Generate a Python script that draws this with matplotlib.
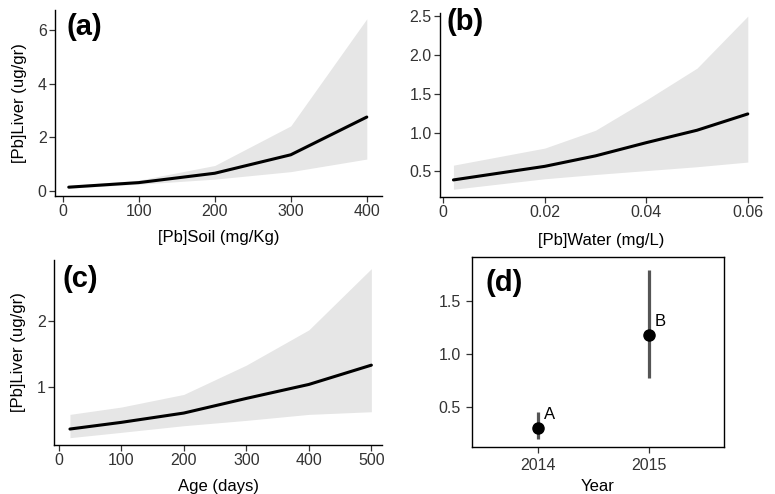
import numpy as np
import matplotlib
matplotlib.use("Agg")
import matplotlib.pyplot as plt

plt.rcParams['font.family'] = ['Liberation Sans', 'DejaVu Sans']

# (a) soil
soil_x = [8, 100, 200, 300, 400]
soil_fit = [0.14, 0.31, 0.66, 1.35, 2.76]
soil_lo = [0.10, 0.25, 0.44, 0.72, 1.19]
soil_hi = [0.20, 0.40, 0.95, 2.43, 6.43]

# (b) water
water_x = [0.002, 0.02, 0.03, 0.04, 0.05, 0.06]
water_fit = [0.39, 0.565, 0.70, 0.87, 1.03, 1.24]
water_lo = [0.27, 0.405, 0.46, 0.51, 0.56, 0.62]
water_hi = [0.58, 0.80, 1.03, 1.42, 1.83, 2.50]

# (c) age
age_x = [18, 100, 200, 300, 400, 500]
age_fit = [0.37, 0.47, 0.61, 0.83, 1.04, 1.33]
age_lo = [0.24, 0.32, 0.42, 0.50, 0.59, 0.63]
age_hi = [0.59, 0.70, 0.89, 1.33, 1.86, 2.78]

# (d) year
years = ['2014', '2015']
year_mean = [0.30, 1.177]
year_lo = [0.20, 0.77]
year_hi = [0.45, 1.79]
year_letters = ['A', 'B']

W, H = 775, 494
fig = plt.figure(figsize=(W / 100, H / 100), dpi=100)

TICK_FS = 11.5
LAB_FS = 12


def px_axes(left, top, right, bottom):
    return fig.add_axes([left / W, (H - bottom) / H, (right - left) / W, (bottom - top) / H])


def style(ax, box=False, pad=2):
    for s in ['top', 'right']:
        ax.spines[s].set_visible(box)
    for s in ax.spines.values():
        s.set_linewidth(1.0)
        s.set_color('black')
    ax.tick_params(direction='out', length=4, width=0.9, labelsize=TICK_FS,
                   labelcolor='#333333', color='#333333', pad=pad)


def band_panel(ax, x, fit, lo, hi, label, lx, ly):
    ax.fill_between(x, lo, hi, color='#e6e6e6', linewidth=0)
    ax.plot(x, fit, color='black', lw=2.2, solid_capstyle='round')
    style(ax)
    ax.text(lx, ly, label, transform=ax.transAxes, fontsize=21,
            fontweight='bold', va='center', ha='left')


ax = px_axes(55, 10, 382, 196)
band_panel(ax, soil_x, soil_fit, soil_lo, soil_hi, '(a)', 0.034, 0.91)
ax.set_xlim(-10.1, 420)
ax.set_ylim(-0.19, 6.76)
ax.set_xticks([0, 100, 200, 300, 400])
ax.set_yticks([0, 2, 4, 6])
ax.set_xlabel('[Pb]Soil (mg/Kg)', fontsize=LAB_FS, labelpad=8)
ax.set_ylabel('[Pb]Liver (ug/gr)', fontsize=LAB_FS, labelpad=8)

ax = px_axes(440, 13, 762, 197)
band_panel(ax, water_x, water_fit, water_lo, water_hi, '(b)', 0.02, 0.95)
ax.set_xlim(-0.00065, 0.0628)
ax.set_ylim(0.17, 2.54)
ax.set_xticks([0, 0.02, 0.04, 0.06])
ax.set_xticklabels(['0', '0.02', '0.04', '0.06'])
ax.set_yticks([0.5, 1.0, 1.5, 2.0, 2.5])
ax.set_yticklabels(['0.5', '1.0', '1.5', '2.0', '2.5'])
ax.set_xlabel('[Pb]Water (mg/L)', fontsize=LAB_FS, labelpad=9)

ax = px_axes(54, 260, 382, 445)
band_panel(ax, age_x, age_fit, age_lo, age_hi, '(c)', 0.027, 0.90)
ax.set_xlim(-7.5, 517)
ax.set_ylim(0.13, 2.91)
ax.set_xticks([0, 100, 200, 300, 400, 500])
ax.set_yticks([1, 2])
ax.set_xlabel('Age (days)', fontsize=LAB_FS, labelpad=8)
ax.set_ylabel('[Pb]Liver (ug/gr)', fontsize=LAB_FS, labelpad=8)

ax = px_axes(472, 257, 724, 447)
pos = np.arange(1, len(years) + 1)
ax.vlines(pos, year_lo, year_hi, color='#555555', lw=2.3)
ax.plot(pos, year_mean, 'o', color='black', ms=8)
for p, m, t in zip(pos, year_mean, year_letters):
    ax.text(p + 0.05, m + 0.06, t, fontsize=12, va='bottom', ha='left')
style(ax, box=True, pad=4)
ax.set_xlim(0.4, 2.68)
ax.set_ylim(0.12, 1.914)
ax.set_xticks(pos)
ax.set_xticklabels(years)
ax.set_yticks([0.5, 1.0, 1.5])
ax.set_yticklabels(['0.5', '1.0', '1.5'])
ax.set_xlabel('Year', fontsize=LAB_FS, labelpad=4)
ax.text(0.053, 0.863, '(d)', transform=ax.transAxes, fontsize=21,
        fontweight='bold', va='center', ha='left')

fig.savefig('out.png', dpi=100)
